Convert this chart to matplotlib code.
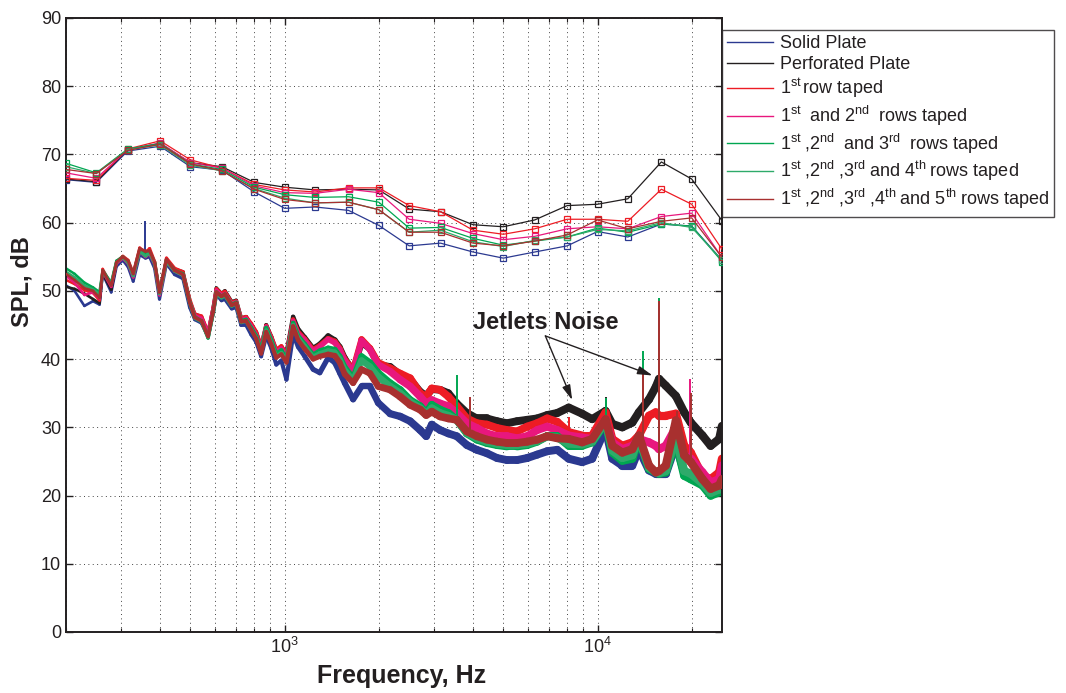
import numpy as np
import matplotlib
matplotlib.use("Agg")
import matplotlib.pyplot as plt
from matplotlib.collections import LineCollection
from matplotlib.lines import Line2D
from matplotlib.ticker import LogLocator, NullFormatter, FixedLocator

plt.rcParams["font.family"] = ["Liberation Sans", "DejaVu Sans"]
plt.rcParams["mathtext.fontset"] = "custom"
plt.rcParams["mathtext.rm"] = "Liberation Sans"
plt.rcParams["mathtext.it"] = "Liberation Sans:italic"
plt.rcParams["mathtext.bf"] = "Liberation Sans:bold"

LABELS = [
    "Solid Plate",
    "Perforated Plate",
    r"1$^{\rm st}\,$row taped",
    r"1$^{\rm st}\;$ and 2$^{\rm nd}\;$ rows taped",
    r"1$^{\rm st}\;$,2$^{\rm nd}\;$ and 3$^{\rm rd}\;$ rows taped",
    r"1$^{\rm st}\;$,2$^{\rm nd}\;$,3$^{\rm rd}\;$and 4$^{\rm th}\;$rows taped",
    r"1$^{\rm st}\;$,2$^{\rm nd}\;$,3$^{\rm rd}\;$,4$^{\rm th}\;$and 5$^{\rm th}\;$rows taped",
]
COLORS = ["#2b3990", "#231f20", "#ed1c24", "#e8177d", "#00a651", "#2eaa6a", "#a8302f"]

# 1/3-octave band levels
BANDS = [200, 250, 315, 400, 500, 630, 800, 1000, 1250, 1600, 2000, 2500,
         3150, 4000, 5000, 6300, 8000, 10000, 12500, 16000, 20000, 25000]
OB_SOLID = [66.3, 65.9, 70.5, 71.2, 68.2, 67.7, 64.5, 62.1, 62.3, 61.8, 59.6, 56.6,
            57.0, 55.7, 54.8, 55.7, 56.6, 58.7, 57.9, 59.8, 59.5, 54.5]
OB_PERF = [66.4, 66.0, 70.7, 71.6, 68.8, 68.2, 65.9, 65.2, 64.8, 64.9, 64.8, 62.0,
           61.6, 59.7, 59.4, 60.4, 62.5, 62.7, 63.5, 68.9, 66.4, 60.3]
OB_ROW1 = [66.5, 66.2, 70.8, 72.0, 69.2, 68.0, 65.6, 64.8, 64.5, 65.1, 65.1, 62.5,
           61.6, 58.9, 58.3, 59.1, 60.5, 60.5, 60.2, 64.9, 62.7, 56.1]
OB_ROW12 = [67.3, 66.5, 70.7, 71.7, 68.8, 68.0, 65.4, 64.4, 64.3, 64.9, 64.4, 60.5,
            59.9, 58.4, 57.5, 58.0, 59.1, 59.4, 59.1, 60.9, 61.4, 54.9]
OB_ROW123 = [68.7, 67.3, 70.8, 71.6, 68.6, 67.8, 65.2, 64.1, 63.7, 63.8, 63.0, 59.2,
             59.3, 57.7, 56.7, 57.3, 57.9, 59.2, 58.6, 59.8, 59.5, 54.3]
OB_ROW1234 = [68.2, 67.2, 70.7, 71.4, 68.4, 67.6, 65.0, 63.6, 62.9, 63.0, 61.9, 58.6,
              58.9, 57.2, 56.5, 57.4, 57.9, 59.0, 58.8, 60.0, 59.3, 54.5]
OB_ROW12345 = [67.8, 67.2, 70.6, 71.5, 68.6, 67.6, 64.9, 63.4, 62.9, 63.0, 61.9, 58.6,
               58.6, 57.0, 56.6, 57.3, 58.2, 60.4, 59.1, 60.2, 60.7, 54.9]

# narrowband spectra
NB_FREQ = [200, 213, 229, 244, 256, 262, 279, 290, 304, 316, 328, 344, 359, 370, 384,
           398, 419, 445, 473, 497, 516, 542, 569, 591, 605, 628, 644, 677, 700, 726,
           753, 782, 811, 841, 873, 906, 940, 976,
           1013, 1064, 1104, 1159, 1233, 1295, 1377, 1446, 1500, 1556, 1655, 1761, 1873, 1991,
           2173, 2339, 2518, 2711, 2834, 2953, 3139, 3337, 3549, 3823, 4115, 4430, 4773,
           5138, 5530, 5958, 6413, 6906, 7436,
           8088, 8930, 9612, 10610, 11150, 12000, 12920, 13560, 14610, 15350, 15730,
           16530, 17800, 18930, 19870, 21650, 23000, 24500, 25000]
NB_SOLID = [50.8, 50.0, 47.8, 48.5, 48.0, 52.5, 49.8, 53.6, 54.5, 53.5, 51.4, 55.3, 54.8, 55.0, 53.3,
            48.8, 54.0, 52.4, 51.8, 47.6, 45.8, 45.3, 43.3, 46.8, 49.5, 48.6, 48.8, 47.4, 47.6, 45.0,
            45.0, 43.6, 42.5, 40.4, 43.4, 41.6, 39.2, 39.8,
            37.0, 43.6, 41.8, 40.4, 38.5, 38.0, 40.2, 39.5, 38.0, 36.5, 34.1, 36.0, 36.0, 33.6,
            32.0, 31.6, 30.9, 29.6, 28.7, 30.4, 29.6, 29.1, 28.7, 27.4, 26.7, 26.2, 25.5,
            25.2, 25.2, 25.5, 26.0, 26.5, 26.7,
            25.4, 24.9, 25.4, 29.8, 25.4, 24.4, 24.4, 26.8, 23.7, 23.2, 23.2,
            23.2, 27.5, 23.4, 22.9, 21.9, 20.5, 21.0, 22.4]
NB_PERF = [50.6, 50.3, 49.6, 48.8, 48.2, 52.6, 50.2, 54.0, 55.0, 54.2, 52.3, 56.0, 55.4, 55.8, 54.0,
           49.6, 54.6, 53.2, 52.8, 48.5, 46.6, 46.2, 43.8, 47.5, 50.4, 49.6, 50.0, 48.4, 48.6, 46.0,
           46.2, 45.0, 43.9, 41.8, 45.0, 43.3, 41.2, 41.8,
           40.8, 46.2, 44.4, 43.2, 41.6, 42.2, 43.4, 42.8, 41.8, 40.2, 38.3, 42.4, 41.5, 39.2,
           38.9, 37.7, 37.0, 35.2, 34.6, 35.6, 35.5, 35.0, 33.5, 32.1, 31.3, 31.3, 30.9,
           30.6, 30.9, 31.1, 31.3, 31.8, 32.1,
           32.9, 32.0, 31.2, 32.4, 30.5, 30.0, 30.7, 32.2, 34.1, 35.9, 37.1,
           36.1, 34.6, 32.2, 30.7, 28.8, 27.3, 28.3, 30.2]
NB_ROW1 = [51.6, 51.0, 50.1, 49.7, 48.6, 53.2, 50.9, 54.3, 55.1, 54.5, 52.6, 56.3, 55.6, 56.2, 54.3,
           49.9, 54.8, 53.3, 52.8, 48.8, 46.6, 46.3, 43.9, 47.5, 50.3, 49.6, 49.9, 48.3, 48.5, 46.0,
           46.2, 45.2, 44.0, 41.8, 44.9, 43.3, 41.4, 41.9,
           40.6, 45.8, 44.0, 43.0, 41.4, 42.0, 43.0, 42.6, 41.6, 40.0, 38.5, 42.9, 41.6, 39.5,
           38.7, 37.9, 37.2, 35.0, 34.5, 35.7, 35.5, 34.5, 33.1, 31.3, 30.6, 30.4, 29.9,
           29.6, 29.4, 30.1, 30.6, 31.3, 30.8,
           29.3, 28.8, 28.8, 32.2, 28.3, 27.3, 27.8, 28.8, 31.7, 32.2, 31.7,
           31.7, 32.0, 27.3, 26.3, 22.9, 22.4, 23.4, 25.4]
NB_ROW12 = [52.2, 51.2, 49.4, 49.8, 48.9, 52.8, 50.6, 54.0, 54.8, 54.0, 52.0, 55.8, 55.0, 55.5, 53.9,
            49.4, 54.3, 52.9, 52.4, 48.4, 46.4, 46.0, 43.8, 47.4, 50.1, 49.4, 49.6, 48.1, 48.4, 45.8,
            46.0, 44.9, 43.6, 41.6, 44.8, 43.0, 41.1, 41.6,
            40.4, 45.6, 43.8, 42.8, 41.2, 41.8, 42.9, 42.4, 41.4, 39.8, 38.2, 42.7, 41.4, 39.2,
            38.2, 37.0, 36.0, 34.5, 33.5, 34.0, 33.5, 33.1, 32.1, 30.6, 29.9, 29.1, 28.7,
            28.7, 28.4, 28.7, 29.6, 30.1, 29.6,
            28.8, 28.5, 28.3, 31.2, 27.8, 26.8, 27.3, 28.3, 27.8, 27.3, 26.8,
            27.3, 30.0, 25.9, 25.4, 23.4, 21.9, 22.4, 24.4]
NB_ROW123 = [53.3, 52.5, 51.2, 50.5, 49.8, 53.0, 51.2, 54.4, 55.0, 54.3, 52.4, 56.0, 55.3, 55.7, 54.2,
             49.8, 54.5, 53.0, 52.5, 48.4, 46.2, 45.6, 43.1, 46.9, 49.8, 49.2, 49.5, 48.0, 48.3, 45.6,
             45.8, 44.6, 43.4, 41.3, 44.6, 42.8, 40.8, 41.3,
             40.0, 45.3, 43.4, 42.2, 40.6, 41.2, 41.6, 41.4, 40.4, 38.8, 37.2, 40.4, 39.5, 38.0,
             36.5, 35.5, 34.0, 33.1, 32.1, 33.3, 32.6, 32.1, 31.1, 29.1, 28.2, 27.7, 27.4,
             27.2, 27.2, 27.4, 27.9, 28.7, 28.7,
             27.3, 27.3, 27.8, 30.7, 26.3, 25.1, 25.4, 28.3, 23.9, 23.4, 23.2,
             23.4, 28.0, 22.9, 22.4, 21.5, 20.0, 20.5, 21.9]
NB_ROW1234 = [52.8, 52.0, 50.8, 50.2, 49.5, 52.8, 51.0, 54.2, 54.9, 54.1, 52.2, 55.8, 55.1, 55.6, 54.0,
              49.6, 54.3, 52.9, 52.3, 48.2, 46.0, 45.5, 43.2, 46.8, 49.6, 49.0, 49.3, 47.8, 48.1, 45.4,
              45.6, 44.3, 43.1, 41.0, 44.2, 42.4, 40.4, 40.9,
              39.8, 45.0, 43.1, 41.9, 40.3, 40.8, 41.2, 41.0, 40.0, 38.4, 36.9, 39.8, 38.9, 37.4,
              36.0, 35.0, 33.7, 32.8, 31.9, 32.8, 32.1, 31.7, 31.1, 29.2, 28.4, 27.9, 27.6,
              27.4, 27.4, 27.6, 28.0, 28.7, 28.5,
              27.6, 27.5, 27.9, 30.9, 26.6, 25.5, 25.9, 28.4, 24.1, 23.4, 23.3,
              23.6, 28.5, 23.6, 23.2, 21.8, 20.4, 20.9, 22.0]
NB_ROW12345 = [52.5, 51.6, 50.4, 50.0, 49.0, 53.0, 50.8, 54.2, 55.0, 54.4, 52.5, 56.2, 55.8, 55.9, 54.2,
               49.8, 54.6, 53.0, 52.4, 48.3, 46.1, 45.6, 43.3, 47.0, 49.8, 49.2, 49.5, 47.9, 48.2, 45.5,
               45.6, 44.3, 43.0, 40.8, 44.0, 42.2, 40.2, 40.7,
               39.5, 44.8, 42.8, 41.5, 40.0, 40.4, 40.7, 40.5, 39.5, 37.8, 36.5, 38.5, 37.9, 36.0,
               35.5, 34.5, 33.3, 32.6, 31.8, 32.3, 31.6, 31.3, 31.1, 29.4, 28.7, 28.2, 27.9,
               27.7, 27.7, 27.9, 28.2, 28.7, 28.4,
               28.3, 27.8, 28.3, 31.2, 27.3, 26.3, 26.8, 28.8, 24.4, 23.4, 23.6,
               24.4, 31.0, 25.9, 24.9, 22.4, 21.0, 21.5, 22.4]

# narrow tonal spikes: (frequency, peak level)
SPK_SOLID = [(359, 60.2)]
SPK_PERF = [(10610, 34.4)]
SPK_ROW1 = [(8100, 31.5), (15700, 38.5)]
SPK_ROW12 = [(19800, 37.1)]
SPK_ROW123 = [(3549, 37.7), (10610, 34.3), (14000, 41.2), (15700, 49.0)]
SPK_ROW1234 = []
SPK_ROW12345 = [(3920, 34.5), (14000, 38.0), (15700, 48.5), (17900, 32.4), (19950, 35.1)]

OCTAVE = [OB_SOLID, OB_PERF, OB_ROW1, OB_ROW12, OB_ROW123, OB_ROW1234, OB_ROW12345]
NARROW = [NB_SOLID, NB_PERF, NB_ROW1, NB_ROW12, NB_ROW123, NB_ROW1234, NB_ROW12345]
SPIKES = [SPK_SOLID, SPK_PERF, SPK_ROW1, SPK_ROW12, SPK_ROW123, SPK_ROW1234, SPK_ROW12345]


def draw_narrow(ax, freq, vals, color, z):
    f = np.asarray(freq, float)
    v = np.asarray(vals, float)
    pts = np.column_stack([f, v])
    segs = np.stack([pts[:-1], pts[1:]], axis=1)
    fmid = np.sqrt(f[:-1] * f[1:])
    # the measured spectra are fuzzy: thicker strokes where the noise is dense
    widths = np.interp(np.log10(fmid), [2.3, 3.0, 3.4, 4.4], [1.8, 3.0, 5.5, 6.0])
    lc = LineCollection(segs, colors=color, linewidths=widths, capstyle="round",
                        joinstyle="round", zorder=z)
    ax.add_collection(lc)


fig = plt.figure(figsize=(10.66, 6.93), dpi=100)
ax = fig.add_axes([66 / 1066, 1 - 632 / 693, 656 / 1066, 614 / 693])
ax.set_xscale("log")

for i, (vals, col) in enumerate(zip(NARROW, COLORS)):
    draw_narrow(ax, NB_FREQ, vals, col, 2 + i * 0.1)
    for fs, top in SPIKES[i]:
        base = np.interp(np.log10(fs), np.log10(NB_FREQ), vals)
        ax.vlines(fs, base, top, color=col, lw=1.4, zorder=2.05 + i * 0.1)

for vals, col in zip(OCTAVE, COLORS):
    ax.plot(BANDS, vals, "-s", color=col, lw=0.9, ms=4.0, mfc="none", mew=0.9, zorder=3)

ax.set_xlim(200, 25000)
ax.set_ylim(0, 90)
ax.set_yticks(range(0, 91, 10))
ax.xaxis.set_major_locator(FixedLocator([1e3, 1e4]))
ax.xaxis.set_minor_locator(LogLocator(base=10, subs=np.arange(2, 10), numticks=20))
ax.xaxis.set_minor_formatter(NullFormatter())
ax.tick_params(which="both", direction="in", top=True, right=True, labelsize=13,
               colors="#231f20")
ax.tick_params(which="major", length=5, width=1)
ax.tick_params(which="minor", length=3, width=0.8)
ax.grid(True, which="both", axis="x", color="#444444", ls=(0, (1, 3.5)), lw=0.7)
ax.grid(True, which="major", axis="y", color="#444444", ls=(0, (1, 3.5)), lw=0.7)
for sp in ax.spines.values():
    sp.set_linewidth(1.4)
    sp.set_color("#231f20")

ax.set_xlabel("Frequency, Hz", fontsize=18, fontweight="bold", color="#231f20")
ax.set_ylabel("SPL, dB", fontsize=17, fontweight="bold", color="#231f20")
ax.xaxis.set_label_coords(0.512, -0.052)
ax.yaxis.set_label_coords(-0.05, 0.57)

ax.text(6813, 45.4, "Jetlets Noise", ha="center", va="center", fontsize=17,
        fontweight="bold", color="#231f20", zorder=5)
for tip in [(8300, 34.0), (15000, 37.6)]:
    ax.annotate("", xy=tip, xytext=(6813, 43.4),
                arrowprops=dict(arrowstyle="-|>,head_length=0.9,head_width=0.25",
                                color="#231f20", lw=1.0, shrinkA=0, shrinkB=0),
                zorder=5)

handles = [Line2D([], [], color=c, lw=1.0) for c in COLORS]
leg = fig.legend(handles, LABELS, loc="upper left",
                 bbox_to_anchor=(722 / 1066, 1 - 30 / 693), bbox_transform=fig.transFigure,
                 fontsize=13, frameon=True, fancybox=False, borderaxespad=0,
                 handlelength=2.5, handletextpad=0.4, labelspacing=0.2,
                 borderpad=0.3)
leg.get_frame().set_edgecolor("#231f20")
leg.get_frame().set_linewidth(1.0)
for t in leg.get_texts():
    t.set_color("#231f20")

fig.savefig("out.png", dpi=100)
